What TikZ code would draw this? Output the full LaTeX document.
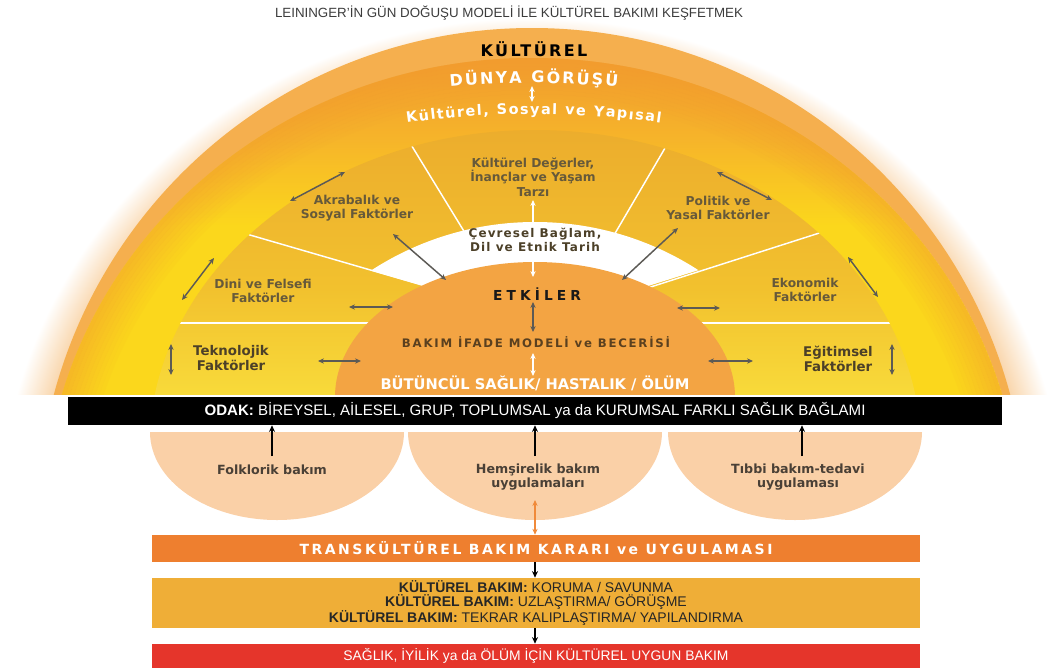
\documentclass[tikz,border=0pt]{standalone}
\usepackage{fontspec}
\setmainfont{Liberation Sans}
\newfontfamily\dv{DejaVu Sans}
\usetikzlibrary{arrows.meta,decorations.text}

\definecolor{cband}{HTML}{F5AF4E}
\definecolor{corg}{HTML}{F29C2E}
\definecolor{corgm}{HTML}{F6B42A}
\definecolor{cyel}{HTML}{FBD71C}
\definecolor{stopc}{HTML}{ECAD2D}
\definecolor{smid}{HTML}{F2C12E}
\definecolor{sbot}{HTML}{F8DA3A}
\definecolor{glowin}{HTML}{F8CF9E}
\definecolor{cdome}{HTML}{F3A443}
\definecolor{cpeach}{HTML}{FAD0A7}
\definecolor{cobar}{HTML}{EE7F2F}
\definecolor{camber}{HTML}{EFAE37}
\definecolor{cred}{HTML}{E5352B}
\definecolor{carrow}{HTML}{5C5A55}
\definecolor{clab}{HTML}{66593A}
\definecolor{cdark}{HTML}{4C4028}
\definecolor{cgray}{HTML}{4A4036}
\definecolor{cbrown}{HTML}{5A401F}
\definecolor{ctitle}{HTML}{3C3C3C}
\definecolor{corarrow}{HTML}{F08A3A}

% the central 50bp of a shading is fitted to the path: 25bp = bottom / edge, 75bp = top
\pgfdeclareverticalshading{outerv}{100bp}{color(0bp)=(cyel); color(50bp)=(cyel); color(63bp)=(corgm); color(75bp)=(corg); color(100bp)=(corg)}
\pgfdeclareverticalshading{sectv}{100bp}{color(0bp)=(sbot); color(25bp)=(sbot); color(45bp)=(smid); color(75bp)=(stopc); color(100bp)=(stopc)}
\pgfdeclareradialshading{glowr}{\pgfpoint{0bp}{0bp}}{color(0bp)=(glowin); color(23bp)=(glowin); color(25bp)=(white); color(50bp)=(white)}

\tikzset{
  darr/.style={{Stealth[length=4.5pt,width=4pt]}-{Stealth[length=4.5pt,width=4pt]}, line width=1.1pt, draw=carrow},
  warr/.style={darr, draw=white},
  oarr/.style={darr, draw=corarrow, line width=0.9pt},
  barr/.style={-{Stealth[length=5pt,width=4.5pt]}, line width=1.2pt, draw=black},
  divl/.style={white, line width=1.1pt},
  seclab/.style={font=\dv\bfseries\fontsize{9.2}{11}\selectfont, text=clab, align=center, inner sep=0pt},
  darklab/.style={font=\dv\bfseries\fontsize{10}{9.6}\selectfont, text=cdark, align=center, inner sep=0pt},
  botlab/.style={font=\dv\bfseries\fontsize{9.5}{10.6}\selectfont, text=cgray, align=center, inner sep=0pt},
  bar/.style={minimum width=576pt, inner sep=0pt, anchor=center},
}

\begin{document}
\begin{tikzpicture}[x=0.75pt,y=-0.75pt]
\useasboundingbox (0,0) rectangle (1057,668);

% title
\node[font=\fontsize{10}{12}\selectfont, text=ctitle] (title) at (509,13) {LEININGER'İN GÜN DOĞUŞU MODELİ İLE KÜLTÜREL BAKIMI KEŞFETMEK};

% ===== sunrise dome =====
\begin{scope}
  \clip (0,0) rectangle (1057,394);
  \shade[shading=glowr] (532,523) ellipse [x radius=533, y radius=505];
  \fill[cband] (532,523) circle [radius=495];
  \begin{scope}
    \clip (532,523) ellipse [x radius=489, y radius=465];
    \shade[shading=outerv] (40,58) rectangle (1030,394);
    \foreach \i [evaluate=\i as \op using 0.5-0.05*\i,
                 evaluate=\i as \rx using 487-4*\i,
                 evaluate=\i as \ry using 463-4*\i] in {0,...,9}
      \draw[corg, line width=3pt, draw opacity=\op] (532,523) ellipse [x radius=\rx, y radius=\ry];
  \end{scope}
  % sector ring
  \begin{scope}
    \clip (535,450) ellipse [x radius=386, y radius=320];
    \shade[shading=sectv] (140,130) rectangle (930,394);
    \draw[divl] (200,220.5) -- (460,296);
    \draw[divl] (398,123.4) -- (480,257.4);
    \draw[divl] (680,122.5) -- (600,259);
    \draw[divl] (870,216.8) -- (610,300);
    \draw[divl] (140,323) -- (400,323);
    \draw[divl] (670,323) -- (930,323);
  \end{scope}
  % white band
  \begin{scope}
    \clip (535,523) circle [radius=301];
    \clip (100,191.4) -- (540,320) -- (970,184.8) -- (970,0) -- (100,0) -- cycle;
    \fill[white] (200,200) rectangle (870,400);
  \end{scope}
  % inner dome
  \fill[cdome] (535,397) ellipse [x radius=200, y radius=135];
\end{scope}

% ===== arrows in the dome =====
\coordinate (a1s) at (290,201); \coordinate (a1e) at (345,172);
\coordinate (a2s) at (393,234); \coordinate (a2e) at (446,280);
\coordinate (a3s) at (214,258); \coordinate (a3e) at (182,300);
\coordinate (a4s) at (349,307); \coordinate (a4e) at (393,307);
\coordinate (a5s) at (318,361); \coordinate (a5e) at (361,361);
\coordinate (a6s) at (171,344); \coordinate (a6e) at (171,375);
\coordinate (b1s) at (717,172); \coordinate (b1e) at (772,200);
\coordinate (b2s) at (678,228); \coordinate (b2e) at (622,280);
\coordinate (b3s) at (848,257); \coordinate (b3e) at (878,297);
\coordinate (b4s) at (677,308); \coordinate (b4e) at (720,308);
\coordinate (b5s) at (708,361); \coordinate (b5e) at (753,361);
\coordinate (b6s) at (892,344); \coordinate (b6e) at (892,375);
\foreach \p in {a1,a2,a3,a4,a5,a6,b1,b2,b3,b4,b5,b6}
  \draw[darr] (\p s) -- (\p e);
\coordinate (e1) at (533,302); \coordinate (e2) at (533,332);
\draw[darr] (e1) -- (e2);
\coordinate (k1) at (533,200); \coordinate (k2) at (533,277);
\draw[warr] (k1) -- (k2);
\coordinate (m1) at (533,353); \coordinate (m2) at (533,376);
\draw[warr] (m1) -- (m2);

% ===== outer band texts =====
\node[font=\dv\bfseries\fontsize{12}{12}\selectfont\addfontfeature{LetterSpace=15}, text=black] (kult) at (534,49) {KÜLTÜREL};
\path[decorate, decoration={text along path, text align=center, text color=white,
  text={|\dv\bfseries\fontsize{12}{12}\selectfont\kern1.5pt|DÜNYA GÖRÜŞÜ}}]
  (533,983) ++(-102:900) arc[start angle=-102, end angle=-78, radius=900];
\coordinate (dw1) at (532,86);
\coordinate (dw2) at (532,102);
\draw[warr] (dw1) -- (dw2);
\path[decorate, decoration={text along path, text align=center, text color=white,
  text={|\dv\bfseries\fontsize{10.8}{10.8}\selectfont\kern1.1pt|Kültürel, Sosyal ve Yapısal}}]
  (533,1014) ++(-104:900) arc[start angle=-104, end angle=-76, radius=900];

% ===== sector labels =====
\node[seclab] (kdeg) at (533,177) {Kültürel Değerler,\\İnançlar ve Yaşam\\Tarzı};
\node[seclab] (akr) at (357,208) {Akrabalık ve\\Sosyal Faktörler};
\node[seclab] (pol) at (718,208) {Politik ve\\Yasal Faktörler};
\node[seclab] (dini) at (263,291) {Dini ve Felsefi\\Faktörler};
\node[seclab] (eko) at (805,290) {Ekonomik\\Faktörler};
\node[darklab] (tek) at (231,358) {Teknolojik\\Faktörler};
\node[darklab] (egi) at (838,359) {Eğitimsel\\Faktörler};
\node[font=\dv\bfseries\fontsize{9}{11}\selectfont\addfontfeature{LetterSpace=9}, text=cdark, align=center, inner sep=0pt] (cev) at (535,240) {Çevresel Bağlam,\\Dil ve Etnik Tarih};

% ===== inner dome texts =====
\node[font=\dv\bfseries\fontsize{10.3}{10.3}\selectfont\addfontfeature{LetterSpace=30}, text=black!90] (etk) at (537,294) {ETKİLER};
\node[font=\dv\bfseries\fontsize{8.8}{8.8}\selectfont\addfontfeature{LetterSpace=15}, text=cbrown] (bakim) at (536,342) {BAKIM İFADE MODELİ ve BECERİSİ};
\node[font=\dv\bfseries\fontsize{11}{11}\selectfont, text=white] (butun) at (535,383) {BÜTÜNCÜL SAĞLIK/ HASTALIK / ÖLÜM};

% ===== focus bar =====
\node[fill=black, minimum width=700.5pt, minimum height=21pt, inner sep=0pt, text=white,
      font=\fontsize{11.3}{12}\selectfont] (odak) at (535,411)
      {\textbf{ODAK:} BİREYSEL, AİLESEL, GRUP, TOPLUMSAL ya da KURUMSAL FARKLI SAĞLIK BAĞLAMI};

% ===== care systems half discs =====
\fill[cpeach] (150,432) arc[start angle=180, end angle=0, x radius=127, y radius=88] -- cycle;
\fill[cpeach] (408,432) arc[start angle=180, end angle=0, x radius=127, y radius=88] -- cycle;
\fill[cpeach] (668,432) arc[start angle=180, end angle=0, x radius=127, y radius=88] -- cycle;
\node[botlab] (folk) at (272,470) {Folklorik bakım};
\node[botlab] (hem) at (538,477) {Hemşirelik bakım\\uygulamaları};
\node[botlab] (tib) at (798,477) {Tıbbi bakım-tedavi\\uygulaması};
\coordinate (f1) at (272,456);
\coordinate (h1) at (535,456);
\coordinate (t1) at (802,456);
\draw[barr] (f1) -- (f1 |- odak.south);
\draw[barr] (h1) -- (h1 |- odak.south);
\draw[barr] (t1) -- (t1 |- odak.south);

% ===== decision bars =====
\node[bar, fill=cobar, minimum height=20.25pt, text=white,
      font=\dv\bfseries\fontsize{10.5}{10.5}\selectfont\addfontfeature{LetterSpace=18}] (trans) at (536,548.5)
      {TRANSKÜLTÜREL BAKIM KARARI ve UYGULAMASI};
\node[bar, fill=camber, minimum height=37.5pt, align=center, text=black!85,
      font=\fontsize{10.5}{10.9}\selectfont] (kb) at (536,603)
      {\textbf{KÜLTÜREL BAKIM:} KORUMA / SAVUNMA\\\textbf{KÜLTÜREL BAKIM:} UZLAŞTIRMA/ GÖRÜŞME\\\textbf{KÜLTÜREL BAKIM:} TEKRAR KALIPLAŞTIRMA/ YAPILANDIRMA};
\node[bar, fill=cred, minimum height=18pt, text=white,
      font=\fontsize{10.4}{10.4}\selectfont] (red) at (536,656)
      {SAĞLIK, İYİLİK ya da ÖLÜM İÇİN KÜLTÜREL UYGUN BAKIM};

\coordinate (o1) at (535,500);
\draw[oarr] (o1) -- (o1 |- trans.north);
\draw[barr] (trans.south -| h1) -- (kb.north -| h1);
\draw[barr] (kb.south -| h1) -- (red.north -| h1);
\end{tikzpicture}
\end{document}
